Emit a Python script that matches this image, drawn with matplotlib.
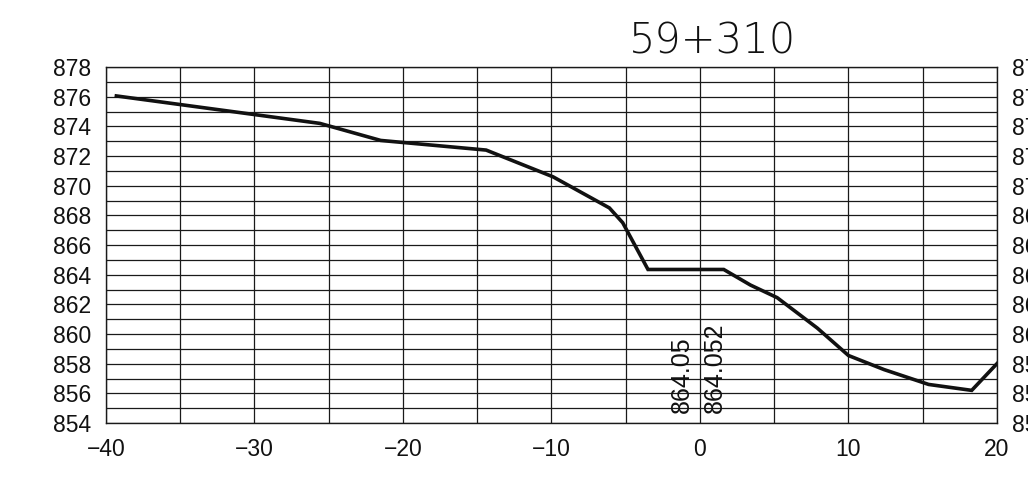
import matplotlib
matplotlib.use("Agg")
import matplotlib.pyplot as plt
from matplotlib.ticker import MultipleLocator

# Data
offset = [-39.3, -25.6, -21.5, -14.4, -9.9, -6.1, -5.2, -3.5, 1.6, 3.4, 5.2, 7.9, 10.0, 12.4, 15.4, 18.3, 20.0]
elev = [876.05, 874.2, 873.05, 872.4, 870.6, 868.5, 867.5, 864.35, 864.35, 863.3, 862.45, 860.4, 858.55, 857.6, 856.6, 856.2, 858.0]
x_ticks = [-40, -30, -20, -10, 0, 10, 20]
y_ticks = list(range(854, 879, 2))
title = "59+310"
annot_x = [-1.25, 1.0]
annot_text = ["864.05", "864.052"]

plt.rcParams['font.family'] = ['Liberation Sans', 'DejaVu Sans']
fig = plt.figure(figsize=(10.28, 4.99), dpi=100)
ax = fig.add_axes([0.1031, 0.1523, 0.8667, 0.7134])

ax.set_xlim(-40, 20)
ax.set_ylim(854, 878)
ax.xaxis.set_minor_locator(MultipleLocator(5))
ax.yaxis.set_minor_locator(MultipleLocator(1))
ax.set_xticks(x_ticks)
ax.set_xticklabels([("\u2212%d" % -v) if v < 0 else str(v) for v in x_ticks])
ax.set_yticks(y_ticks)
ax.grid(which='both', color='#1a1a1a', linewidth=0.9)
ax.set_axisbelow(True)
for s in ax.spines.values():
    s.set_color('#1a1a1a')
    s.set_linewidth(1.0)

ax.tick_params(which='both', length=0)
ax.tick_params(axis='y', labelsize=16.5, pad=10.5, labelright=True, colors='#111')
ax.tick_params(axis='x', labelsize=16.5, pad=11, colors='#111')

ax.plot(offset, elev, color='#111111', linewidth=2.6, solid_joinstyle='miter', zorder=3)

for xv, t in zip(annot_x, annot_text):
    ax.text(xv, 854.7, t, rotation=90, ha='center', va='bottom', fontsize=18, color='#111')

fig.text(0.693, 0.918, title, ha='center', va='center', fontsize=30,
         color='#111', family='DejaVu Sans', fontweight='light')

fig.savefig("out.png", dpi=100)
